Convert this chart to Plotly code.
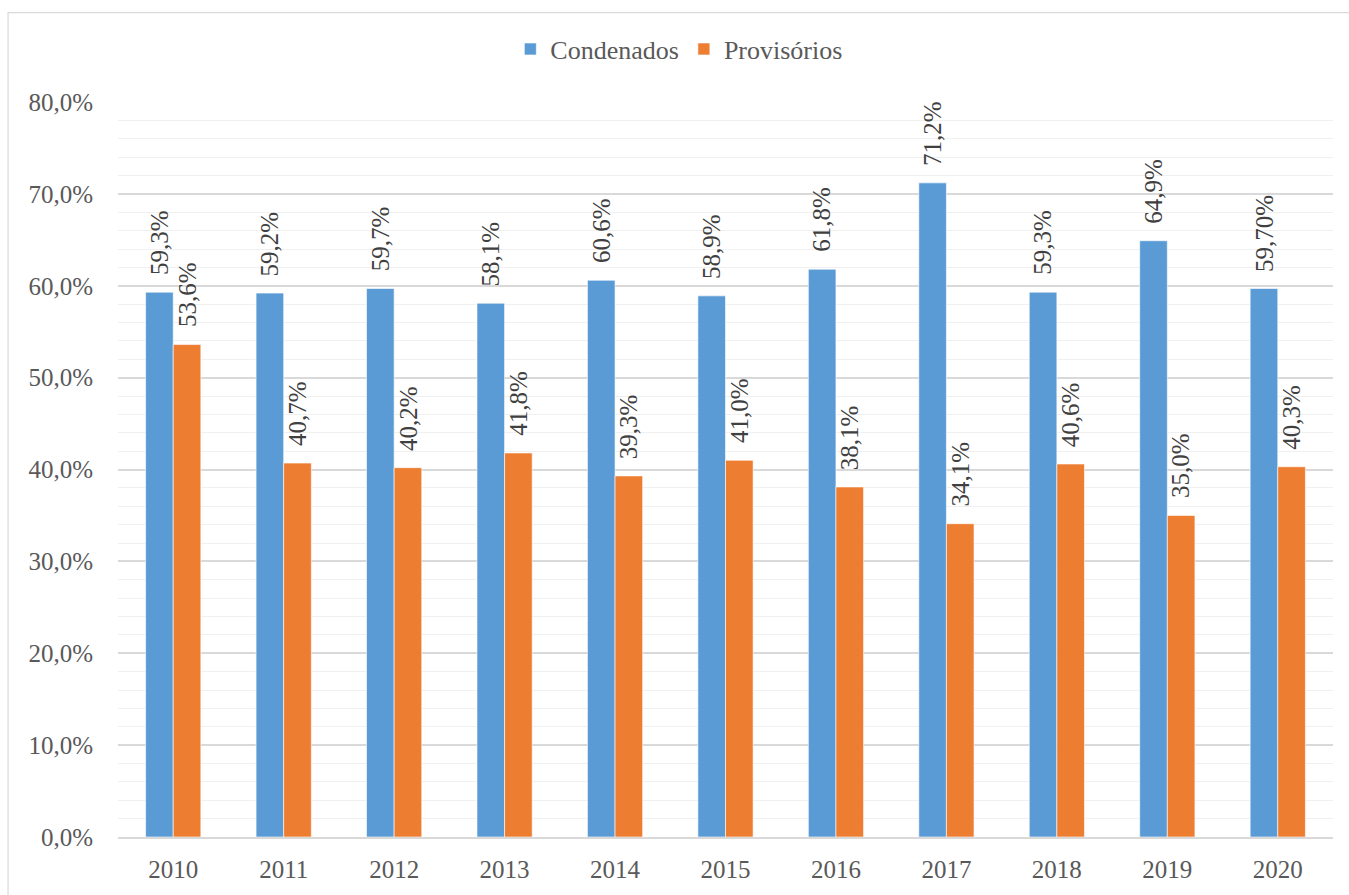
import plotly.graph_objects as go

# Taxas por ano (%)
anos = ["2010", "2011", "2012", "2013", "2014", "2015", "2016", "2017", "2018", "2019", "2020"]
condenados = [59.3, 59.2, 59.7, 58.1, 60.6, 58.9, 61.8, 71.2, 59.3, 64.9, 59.7]
provisorios = [53.6, 40.7, 40.2, 41.8, 39.3, 41.0, 38.1, 34.1, 40.6, 35.0, 40.3]
rotulos_condenados = ["59,3%", "59,2%", "59,7%", "58,1%", "60,6%", "58,9%", "61,8%", "71,2%", "59,3%", "64,9%", "59,70%"]
rotulos_provisorios = ["53,6%", "40,7%", "40,2%", "41,8%", "39,3%", "41,0%", "38,1%", "34,1%", "40,6%", "35,0%", "40,3%"]
y_ticks = [0, 10, 20, 30, 40, 50, 60, 70, 80]
y_tick_text = ["0,0%", "10,0%", "20,0%", "30,0%", "40,0%", "50,0%", "60,0%", "70,0%", "80,0%"]

AZUL = "#5B9BD5"
LARANJA = "#ED7D31"
FONTE = "Liberation Serif, Times New Roman, serif"

x = list(range(len(anos)))

fig = go.Figure()
fig.add_trace(go.Bar(name="Condenados", x=x, y=condenados, marker_color=AZUL,
                     marker_line=dict(color="white", width=0.6)))
fig.add_trace(go.Bar(name="Provisórios", x=x, y=provisorios, marker_color=LARANJA,
                     marker_line=dict(color="white", width=0.6)))

# Rótulos de dados verticais acima de cada barra
for xi, v, t in zip(x, condenados, rotulos_condenados):
    fig.add_annotation(x=xi - 0.125, y=v, text=t, textangle=-90, showarrow=False,
                       xanchor="center", yanchor="bottom", yshift=15,
                       font=dict(family=FONTE, size=25, color="#404040"))
for xi, v, t in zip(x, provisorios, rotulos_provisorios):
    fig.add_annotation(x=xi + 0.125, y=v, text=t, textangle=-90, showarrow=False,
                       xanchor="center", yanchor="bottom", yshift=15,
                       font=dict(family=FONTE, size=25, color="#404040"))

# Moldura da área do gráfico
fig.add_shape(type="rect", xref="paper", yref="paper", x0=-0.0905, x1=1.3, y0=-0.3, y1=1.1216,
              line=dict(color="#d9d9d9", width=1.2), fillcolor="rgba(0,0,0,0)", layer="below")

fig.update_layout(
    width=1349, height=895,
    margin=dict(l=118, r=16, t=102, b=53),
    paper_bgcolor="white", plot_bgcolor="white",
    barmode="group", bargap=0.5, bargroupgap=0,
    font=dict(family=FONTE, size=25, color="#595959"),
    showlegend=True,
    legend=dict(orientation="h", x=0.462, xanchor="center", y=1.072, yanchor="middle",
                font=dict(family=FONTE, size=26, color="#595959"),
                itemwidth=30, traceorder="normal"),
    xaxis=dict(
        range=[-0.5, len(anos) - 0.5],
        tickmode="array", tickvals=x, ticktext=anos,
        showgrid=False, zeroline=False,
        showline=True, linecolor="#d9d9d9", linewidth=1.5,
        ticks="", ticklabelstandoff=9,
        tickfont=dict(family=FONTE, size=25, color="#595959"),
    ),
    yaxis=dict(
        range=[0, 80],
        tickmode="array", tickvals=y_ticks, ticktext=y_tick_text,
        showgrid=True, gridcolor="#d9d9d9", gridwidth=1.5,
        minor=dict(dtick=2, showgrid=True, gridcolor="#f0f0f0", gridwidth=1.2),
        zeroline=False, showline=False,
        ticks="", ticklabelstandoff=24,
        tickfont=dict(family=FONTE, size=25, color="#595959"),
    ),
)

fig.write_html("out.html")
